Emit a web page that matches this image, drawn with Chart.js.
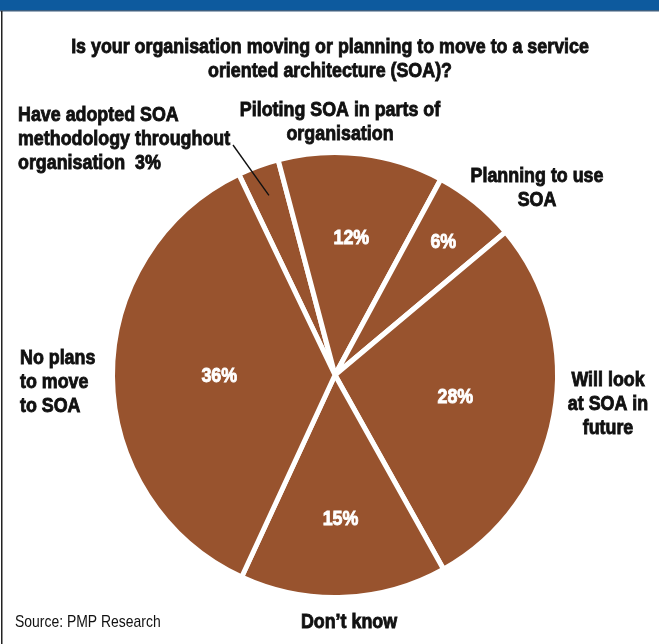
<!DOCTYPE html>
<html>
<head>
<meta charset="utf-8">
<script src="https://cdn.jsdelivr.net/npm/chart.js@4/dist/chart.umd.min.js"></script>
<style>
  html, body { margin: 0; padding: 0; background: #fff; }
  #wrap { width: 659px; height: 644px; position: relative; }
</style>
</head>
<body>
<div id="wrap"><canvas id="soaChart" width="659" height="644"></canvas></div>
<script>
// Survey answers, clockwise starting from the top-left slice
const categories = [
    'Have adopted SOA methodology throughout organisation',
    'Piloting SOA in parts of organisation',
    'Planning to use SOA',
    'Will look at SOA in future',
    "Don\u2019t know",
    'No plans to move to SOA'
];
const shares = [3, 12, 6, 28, 15, 36];
const valueLabels = ['3%', '12%', '6%', '28%', '15%', '36%'];

const titleLines = [
    'Is your organisation moving or planning to move to a service',
    'oriented architecture (SOA)?'
];
const sourceText = 'Source: PMP Research';

const FONT = '"Liberation Sans", Arial, sans-serif';
const SQUEEZE = 0.85; // fake a condensed face by squashing horizontally

// outside labels: lines, anchor, alignment
const outerLabels = [
    { lines: ['Have adopted SOA', 'methodology throughout', 'organisation  3%'], x: 18, y: 115, align: 'left' },
    { lines: ['Piloting SOA in parts of', 'organisation'], x: 340, y: 110, align: 'center' },
    { lines: ['Planning to use', 'SOA'], x: 537, y: 176, align: 'center' },
    { lines: ['Will look', 'at SOA in', 'future'], x: 608, y: 380, align: 'center' },
    { lines: ["Don\u2019t know"], x: 349, y: 622, align: 'center' },
    { lines: ['No plans', 'to move', 'to SOA'], x: 20, y: 358, align: 'left' }
];
// how far out (fraction of radius) the white % sits in each slice; null = shown outside
const innerRadius = [null, 0.62, 0.77, 0.55, 0.65, 0.52];

function squeezedText(ctx, text, x, y, align, sx, heavy) {
    ctx.save();
    ctx.translate(x, y);
    ctx.scale(sx, 1);
    ctx.textAlign = align;
    ctx.fillText(text, 0, 0);
    if (heavy) {
        ctx.lineWidth = 0.9;
        ctx.strokeStyle = ctx.fillStyle;
        ctx.strokeText(text, 0, 0);
    }
    ctx.restore();
}

const decorPlugin = {
    id: 'decor',
    beforeDraw(chart) {
        const ctx = chart.ctx;
        ctx.save();
        // blue header strip
        ctx.fillStyle = '#0d5a9e';
        ctx.fillRect(0, 0, chart.width, 10);
        ctx.fillStyle = '#3d5f80';
        ctx.fillRect(0, 10, chart.width, 1.5);
        // left frame line
        ctx.fillStyle = '#222';
        ctx.fillRect(1, 11, 1.5, chart.height - 11);
        ctx.restore();
    },
    afterDraw(chart) {
        const ctx = chart.ctx;
        ctx.save();
        ctx.textBaseline = 'middle';
        ctx.fillStyle = '#111';

        // title
        ctx.font = 'bold 21px ' + FONT;
        titleLines.forEach((t, i) => squeezedText(ctx, t, 330, 47 + i * 24, 'center', SQUEEZE, true));

        // outside labels
        ctx.font = 'bold 21px ' + FONT;
        outerLabels.forEach(lab => {
            lab.lines.forEach((t, i) => squeezedText(ctx, t, lab.x, lab.y + i * 24, lab.align, SQUEEZE, true));
        });

        // source
        ctx.font = '17px ' + FONT;
        squeezedText(ctx, sourceText, 15, 622, 'left', 0.82, false);

        // leader line for the small slice
        const meta = chart.getDatasetMeta(0);
        const a0 = meta.data[0];
        const mid = (a0.startAngle + a0.endAngle) / 2;
        const r = a0.outerRadius * 0.86;
        ctx.strokeStyle = '#111';
        ctx.lineWidth = 1.4;
        ctx.beginPath();
        ctx.moveTo(233, 145);
        ctx.lineTo(a0.x + Math.cos(mid) * r, a0.y + Math.sin(mid) * r);
        ctx.stroke();

        // white percentages
        ctx.fillStyle = '#fff';
        ctx.font = 'bold 21px ' + FONT;
        meta.data.forEach((arc, i) => {
            if (innerRadius[i] === null) return;
            const m = (arc.startAngle + arc.endAngle) / 2;
            const rr = arc.outerRadius * innerRadius[i];
            squeezedText(ctx, valueLabels[i], arc.x + Math.cos(m) * rr, arc.y + Math.sin(m) * rr, 'center', SQUEEZE, true);
        });
        ctx.restore();
    }
};

new Chart(document.getElementById('soaChart').getContext('2d'), {
    type: 'pie',
    data: {
        labels: categories,
        datasets: [{
            data: shares,
            backgroundColor: '#98532e',
            borderColor: '#ffffff',
            borderWidth: 5,
            borderAlign: 'center'
        }]
    },
    options: {
        responsive: false,
        animation: false,
        rotation: -25.6,
        layout: { padding: { top: 150, bottom: 44, left: 110, right: 99 } },
        plugins: {
            legend: { display: false },
            tooltip: { enabled: false }
        }
    },
    plugins: [decorPlugin]
});
</script>
</body>
</html>
